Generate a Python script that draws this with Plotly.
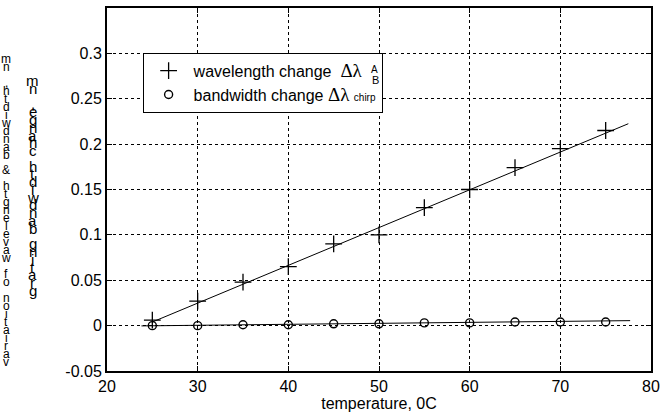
import plotly.graph_objects as go

# ---- data ----
temperature = [25, 30, 35, 40, 45, 50, 55, 60, 65, 70, 75]
wavelength_change = [0.006, 0.027, 0.048, 0.065, 0.090, 0.100, 0.130, 0.150, 0.174, 0.195, 0.215]
bandwidth_change = [0.0, 0.0, 0.001, 0.001, 0.002, 0.002, 0.003, 0.003, 0.004, 0.004, 0.004]

wl_fit_x = [25.0, 77.5]
wl_fit_y = [0.004, 0.2225]
bw_fit_x = [23.8, 77.7]
bw_fit_y = [-0.0003, 0.0055]

x_ticks = [20, 30, 40, 50, 60, 70, 80]
y_ticks = [-0.05, 0, 0.05, 0.1, 0.15, 0.2, 0.25, 0.3]
y_tick_text = ["-0.05", "0", "0.05", "0.1", "0.15", "0.2", "0.25", "0.3"]

FONT = "Liberation Sans, Arial, Helvetica, sans-serif"

fig = go.Figure()
fig.add_trace(go.Scatter(x=wl_fit_x, y=wl_fit_y, mode="lines",
                         line=dict(color="black", width=1), showlegend=False, hoverinfo="skip"))
fig.add_trace(go.Scatter(x=bw_fit_x, y=bw_fit_y, mode="lines",
                         line=dict(color="black", width=1), showlegend=False, hoverinfo="skip"))
fig.add_trace(go.Scatter(
    x=temperature, y=wavelength_change, mode="markers",
    name="wavelength change  <span style='font-family:Liberation Serif;font-size:19px'>Δλ</span>",
    marker=dict(symbol="cross-thin-open", size=12, color="black",
                line=dict(color="black", width=1.3))))
fig.add_trace(go.Scatter(
    x=temperature, y=bandwidth_change, mode="markers",
    name="bandwidth change <span style='font-family:Liberation Serif;font-size:19px'>Δλ</span>"
         " <span style='font-size:10px'>chirp</span>",
    marker=dict(symbol="circle-open", size=8, color="black",
                line=dict(color="black", width=1.4))))

L, R, T, B = 107, 9, 6, 47
W, H = 666, 418
pw, ph = W - L - R, H - T - B

axis_common = dict(showline=True, linecolor="black", linewidth=2, mirror="ticks",
                   ticks="inside", ticklen=5, tickwidth=1, tickcolor="black",
                   showgrid=True, gridcolor="black", gridwidth=1, griddash="dot",
                   zeroline=False, tickfont=dict(family=FONT, size=16, color="black"))

fig.update_xaxes(range=[20, 80], tickvals=x_ticks,
                 title=dict(text="temperature, 0C", font=dict(family=FONT, size=16, color="black"),
                            standoff=3),
                 **axis_common)
fig.update_yaxes(range=[-0.05, 0.35], tickvals=y_ticks, ticktext=y_tick_text, **axis_common)

annotations = []

def px2paper(px, py):
    return (px - L) / pw, (H - B - py) / ph

# superscript A / subscript B stacked for the first legend entry
ax, ay = px2paper(377, 60)
annotations.append(dict(x=ax, y=ay, xref="paper", yref="paper", text="A", showarrow=False,
                        font=dict(family=FONT, size=10, color="black")))
ax, ay = px2paper(378, 70)
annotations.append(dict(x=ax, y=ay, xref="paper", yref="paper", text="B", showarrow=False,
                        font=dict(family=FONT, size=11, color="black")))

# garbled y-axis labels: upright characters stacked bottom-to-top
label1 = "variation of wavelength & bandwidth, nm"
label2 = "grating bandwidth change, nm"

def stacked(label, xc, y_bottom, y_top, size):
    n = len(label)
    step = (y_bottom - y_top) / (n - 1)
    for i, ch in enumerate(label):
        if ch == " ":
            continue
        py = y_bottom - i * step
        xx, yy = px2paper(xc, py)
        annotations.append(dict(x=xx, y=yy, xref="paper", yref="paper", text=ch,
                                showarrow=False, xanchor="center", yanchor="middle",
                                font=dict(family=FONT, size=size, color="black")))

stacked(label1, 5, 362, 57, 12)
stacked(label2, 32, 290, 79, 15)

fig.update_layout(
    width=W, height=H,
    margin=dict(l=L, r=R, t=T, b=B),
    paper_bgcolor="white", plot_bgcolor="white",
    font=dict(family=FONT, size=16, color="black"),
    showlegend=True,
    legend=dict(x=(143 - L) / pw, y=(H - B - 51) / ph, xanchor="left", yanchor="top",
                bgcolor="white", bordercolor="black", borderwidth=1,
                font=dict(family=FONT, size=16, color="black"),
                tracegroupgap=0, itemwidth=40),
    annotations=annotations,
)

fig.write_html("out.html")
